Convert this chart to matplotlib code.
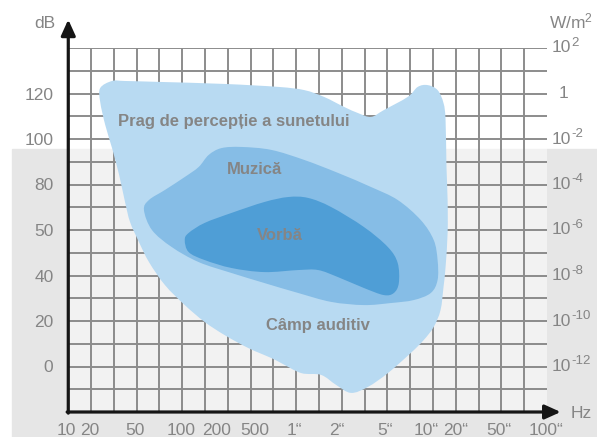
import numpy as np
import matplotlib.pyplot as plt
from matplotlib.path import Path
from matplotlib.patches import PathPatch, Rectangle

plt.rcParams['font.family'] = ['Liberation Sans Narrow', 'Liberation Sans', 'DejaVu Sans']
plt.rcParams['mathtext.fontset'] = 'custom'
plt.rcParams['mathtext.rm'] = 'Liberation Sans'
plt.rcParams['mathtext.it'] = 'Liberation Sans'

# frequency axis: grid columns (log-like schematic), labels placed by column
freq_pos = [-0.1, 0.96, 2.93, 4.93, 6.5, 8.2, 9.9, 11.8, 13.9, 15.7, 17.0, 18.9, 20.96]
freq_labels = ['10', '20', '50', '100', '200', '500', '1\u201c', '2\u201c', '5\u201c',
               '10\u201c', '20\u201c', '50\u201c', '100\u201c']

# level axis: grid rows
db_rows = [2, 4, 6, 8, 10, 12, 14]
db_labels = ['0', '20', '40', '50', '80', '100', '120']
wm2_rows = [2, 4, 6, 8, 10, 12, 14, 16]
wm2_exp = ['-12', '-10', '-8', '-6', '-4', '-2', '', '2']

# region outlines (column, row)
auditiv = [(1.92, 14.55), (2.49, 14.55), (3.97, 14.51), (6.86, 14.42), (9.21, 14.29),
           (10.35, 14.15), (11.22, 13.85), (12.10, 13.41), (12.71, 13.14), (13.28, 12.97),
           (13.84, 13.27), (14.89, 13.85), (15.33, 14.29), (15.76, 14.37), (16.20, 14.15),
           (16.46, 13.58), (16.55, 12.84), (16.59, 10.77), (16.64, 9.32), (16.64, 7.87),
           (16.55, 6.37), (16.46, 5.49), (16.33, 4.48), (16.03, 3.74), (15.59, 3.16),
           (15.02, 2.59), (14.02, 1.71), (13.14, 1.10), (12.40, 0.84), (11.75, 1.19),
           (11.09, 1.63), (10.22, 1.71), (9.34, 2.15), (8.91, 2.37), (7.90, 2.81),
           (6.86, 3.38), (5.98, 3.96), (5.11, 4.70), (4.24, 5.58), (3.54, 6.59),
           (3.10, 7.47), (2.71, 8.35), (2.49, 9.23), (2.23, 10.42), (1.92, 11.60),
           (1.62, 12.62), (1.40, 13.63), (1.40, 14.24)]
muzica = [(6.72, 11.60), (7.60, 11.65), (8.91, 11.52), (10.35, 11.08), (11.83, 10.51),
          (13.28, 9.89), (14.45, 9.32), (15.46, 8.44), (16.03, 7.56), (16.20, 6.68),
          (16.20, 5.80), (15.90, 5.23), (15.15, 4.92), (14.15, 4.79), (12.97, 4.70),
          (11.53, 4.84), (10.09, 5.23), (8.60, 5.67), (7.16, 6.11), (5.72, 6.59),
          (4.54, 7.25), (3.67, 8.00), (3.32, 8.88), (3.54, 9.32), (4.24, 9.76),
          (5.11, 10.33), (5.72, 10.77), (6.16, 11.30)]
vorba = [(5.11, 7.56), (5.28, 7.87), (5.98, 8.31), (7.16, 8.75), (8.60, 9.23),
         (9.65, 9.45), (10.52, 9.41), (11.53, 9.01), (12.97, 8.13), (14.02, 7.25),
         (14.45, 6.55), (14.50, 5.67), (14.28, 5.23), (13.84, 5.14), (12.97, 5.45),
         (11.83, 5.93), (10.96, 6.24), (10.09, 6.24), (8.60, 6.15), (7.16, 6.33),
         (5.98, 6.68), (5.28, 7.03)]

region_names = ['Prag de percepție a sunetului', 'Muzică', 'Vorbă', 'Câmp auditiv']
region_label_pos = [(7.25, 12.75), (8.17, 10.64), (9.30, 7.78), (10.96, 3.82)]

TXT = '#858585'
GRID = '#8c8c8c'


def smooth_path(pts):
    # closed Catmull-Rom outline drawn as cubic Bezier segments
    p = np.array(pts)
    n = len(p)
    verts = [p[0]]
    codes = [Path.MOVETO]
    for i in range(n):
        p0, p1, p2, p3 = p[i - 1], p[i], p[(i + 1) % n], p[(i + 2) % n]
        verts += [p1 + (p2 - p0) / 6, p2 - (p3 - p1) / 6, p2]
        codes += [Path.CURVE4] * 3
    verts.append(p[0])
    codes.append(Path.CLOSEPOLY)
    return Path(verts, codes)


W, H = 597, 437
fig = plt.figure(figsize=(W / 100, H / 100), dpi=100)
fig.patches.append(Rectangle((12 / W, 0), 1, (437 - 149) / H, transform=fig.transFigure,
                             color='#e6e6e6', zorder=-5))
ax = fig.add_axes([66 / W, 25 / H, 481 / W, 364 / H])
ax.set_xlim(0, 21.0)
ax.set_ylim(0, 16)
ax.patch.set_visible(False)
for s in ax.spines.values():
    s.set_visible(False)

ax.add_patch(Rectangle((0, 11.56), 21.0, 4.44, color='white', zorder=0))
ax.add_patch(Rectangle((0, 0), 21.0, 11.56, color='#f2f2f2', zorder=0))
ax.vlines(np.arange(1, 21), 0, 16, color=GRID, lw=1.4, zorder=1)
ax.hlines(np.arange(1, 17), 0, 21.0, color=GRID, lw=1.4, zorder=1)

for outline, col in zip([auditiv, muzica, vorba], ['#b8daf2', '#86bde6', '#4f9ed6']):
    ax.add_patch(PathPatch(smooth_path(outline), facecolor=col, edgecolor='none', zorder=2))

for name, (x, y) in zip(region_names, region_label_pos):
    ax.text(x, y, name, ha='center', va='center', fontsize=12, fontweight='bold',
            color=TXT, zorder=3)

ax.set_xticks(freq_pos, freq_labels)
ax.set_yticks(db_rows, db_labels)
ax.tick_params(axis='x', length=0, pad=8, labelsize=12.5, labelcolor=TXT)
ax.tick_params(axis='y', length=0, pad=9, labelsize=12.5, labelcolor=TXT)

# right-hand intensity scale: base "10" with a raised exponent
renderer = fig.canvas.get_renderer()
for r, e in zip(wm2_rows, wm2_exp):
    if e == '':
        ax.annotate('1', xy=(21.0, r), xytext=(16, 0), textcoords='offset pixels',
                    ha='center', va='center', fontsize=12.5, color=TXT)
        continue
    base = ax.annotate('10', xy=(21.0, r), xytext=(5, 0), textcoords='offset pixels',
                       ha='left', va='center', fontsize=12.5, color=TXT)
    bw = base.get_window_extent(renderer).width
    ax.annotate(e, xy=(21.0, r), xytext=(5 + bw, 5), textcoords='offset pixels',
                ha='left', va='center', fontsize=9.5, color=TXT)

arrow = dict(arrowstyle='-|>,head_length=0.95,head_width=0.43', lw=2.3, color='#151515',
             shrinkA=0, shrinkB=0, mutation_scale=10)
ax.annotate('', xy=(0, 17.25), xytext=(0, -0.05), arrowprops=arrow, annotation_clip=False,
            zorder=5)
ax.annotate('', xy=(21.6, 0), xytext=(-0.05, 0), arrowprops=arrow, annotation_clip=False,
            zorder=5)

fig.text(45 / W, 1 - 23 / H, 'dB', ha='center', va='center', fontsize=12.5, color=TXT)
fig.text(571 / W, 1 - 21 / H, r'W/m$^{2}$', ha='center', va='center', fontsize=12.5, color=TXT)
fig.text(581 / W, 1 - 413 / H, 'Hz', ha='center', va='center', fontsize=12.5, color=TXT)

fig.savefig('out.png', dpi=100)
